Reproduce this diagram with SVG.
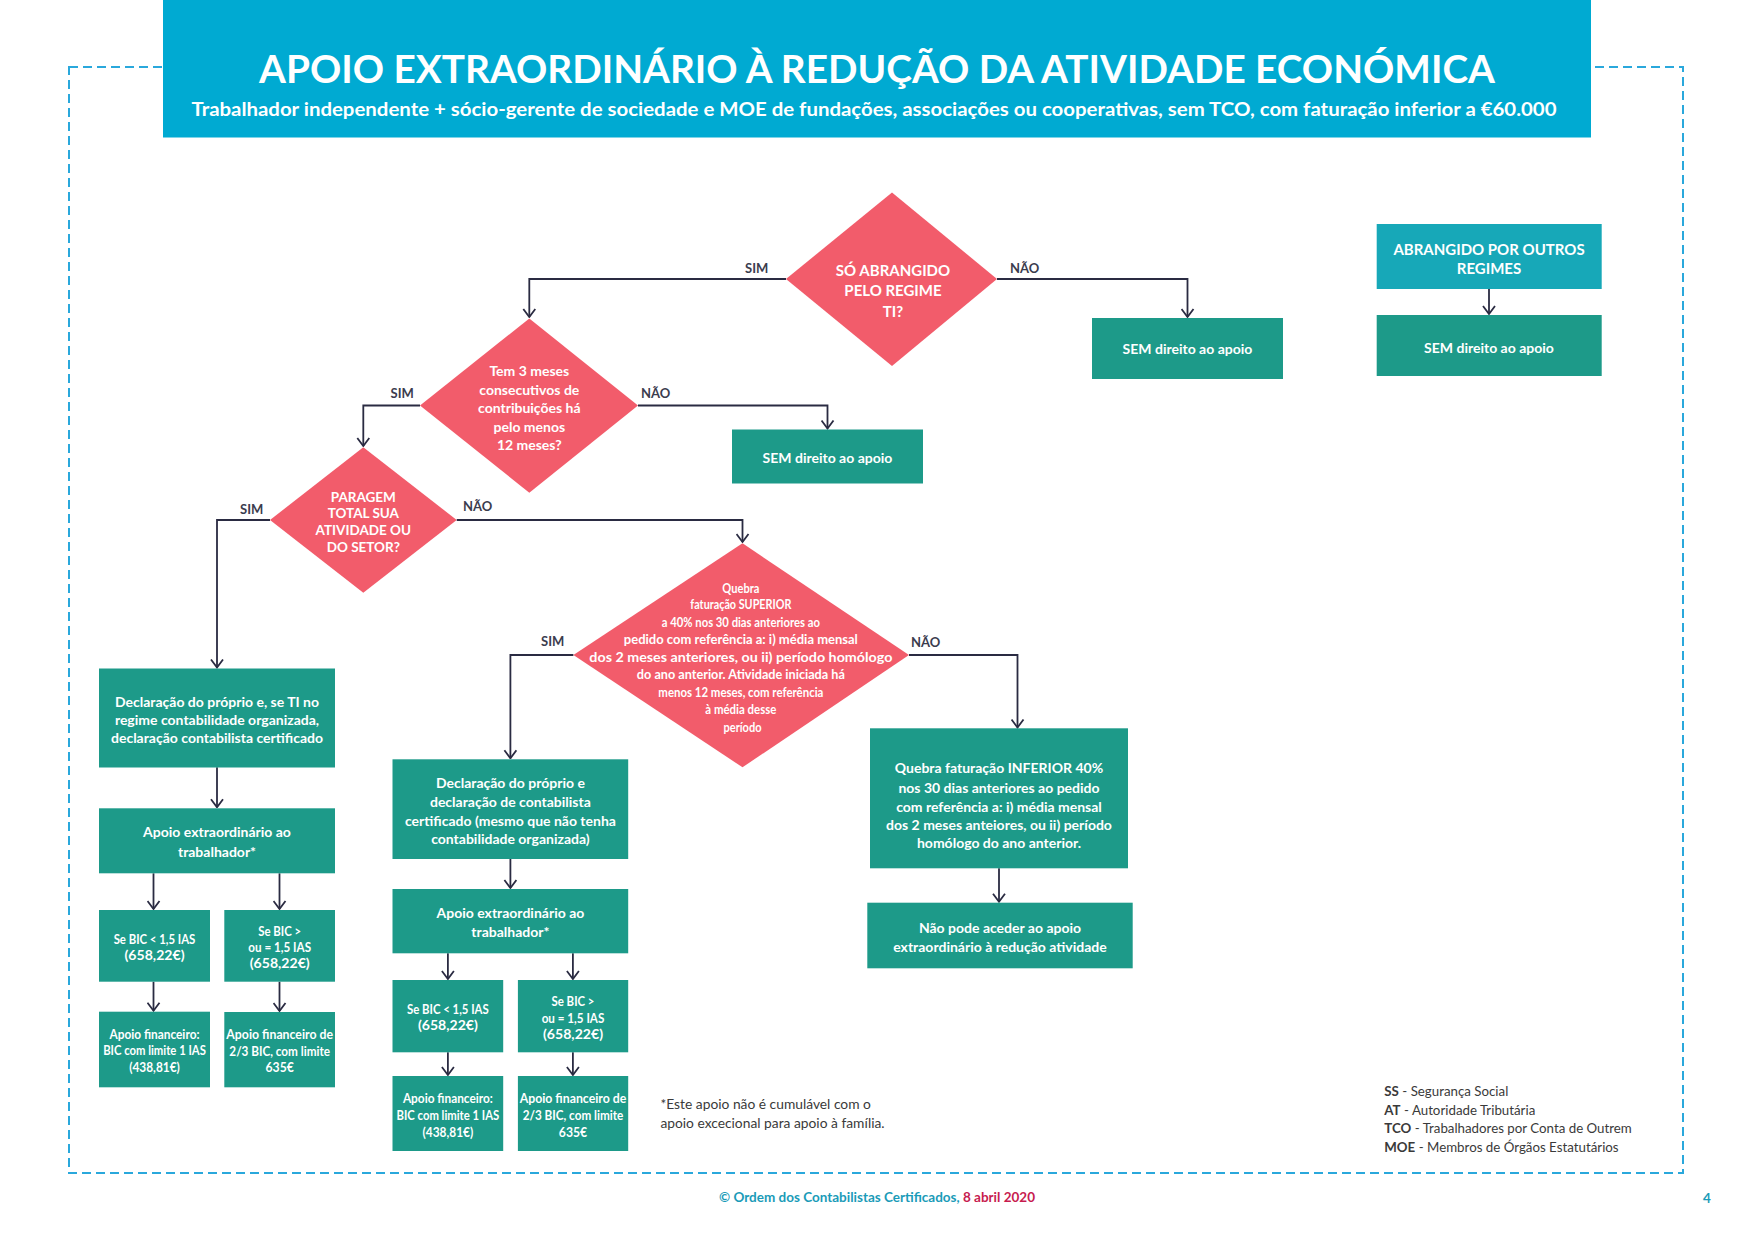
<svg xmlns="http://www.w3.org/2000/svg" width="1754" height="1240" viewBox="0 0 1754 1240">
<defs>
<style>
.bg{fill:#ffffff}
.hdr{fill:#00aad2}
.border{fill:none;stroke:#2aa8dc;stroke-width:2;stroke-dasharray:9 5}
.dia{fill:#f25c6b}
.box{fill:#1d9a89}
.box2{fill:#17a8b8}
.con{fill:none;stroke:#2a2b42;stroke-width:1.8}
.t{font-family:Lato,"Liberation Sans",sans-serif;font-weight:bold;fill:#ffffff;text-anchor:middle;font-size:14px}
.tc{font-size:15px}
.td{font-size:13.5px}
.ts{font-size:13px}
.lbl{font-family:Lato,"Liberation Sans",sans-serif;font-weight:bold;fill:#3b3c4e;font-size:13px}
.note{font-family:Lato,"Liberation Sans",sans-serif;fill:#3a3a3a;font-size:13.3px}
.b{font-weight:bold}
.title{font-family:Lato,"Liberation Sans",sans-serif;font-weight:bold;fill:#ffffff;text-anchor:middle}
.foot{font-family:Lato,"Liberation Sans",sans-serif;font-weight:bold;font-size:13.5px}
</style>
<marker id="arr" viewBox="0 0 10 14" refX="9" refY="7" markerWidth="10" markerHeight="14" markerUnits="userSpaceOnUse" orient="auto">
<path d="M1,1 L9,7 L1,13" fill="none" stroke="#2a2b42" stroke-width="1.8"/>
</marker>
</defs>
<rect class="bg" x="0" y="0" width="1754" height="1240"/>
<rect class="border" x="69" y="67" width="1614" height="1106"/>

<g id="header">
<rect class="hdr" x="163" y="0" width="1428" height="137.5"/>
<text class="title" x="877" y="83" font-size="38" textLength="1236" lengthAdjust="spacingAndGlyphs">APOIO EXTRAORDINÁRIO À REDUÇÃO DA ATIVIDADE ECONÓMICA</text>
<text class="title" x="874" y="116" font-size="19" textLength="1365" lengthAdjust="spacingAndGlyphs">Trabalhador independente + sócio-gerente de sociedade e MOE de fundações, associações ou cooperativas, sem TCO, com faturação inferior a €60.000</text>
</g>

<g id="connectors">
<path class="con" d="M786,279 H529.3 V317" marker-end="url(#arr)"/>
<path class="con" d="M997,279 H1187.5 V317" marker-end="url(#arr)"/>
<path class="con" d="M1489,289 V314" marker-end="url(#arr)"/>
<path class="con" d="M420,405.5 H363.3 V446" marker-end="url(#arr)"/>
<path class="con" d="M638,405.5 H827.5 V428.5" marker-end="url(#arr)"/>
<path class="con" d="M270,520 H217 V667.5" marker-end="url(#arr)"/>
<path class="con" d="M456.7,520 H742.5 V542" marker-end="url(#arr)"/>
<path class="con" d="M573.4,655 H510.4 V758.3" marker-end="url(#arr)"/>
<path class="con" d="M909,655 H1017.5 V727.5" marker-end="url(#arr)"/>
<path class="con" d="M999,868.3 V901.7" marker-end="url(#arr)"/>
<path class="con" d="M217,767.3 V807.3" marker-end="url(#arr)"/>
<path class="con" d="M153.5,873.3 V909" marker-end="url(#arr)"/>
<path class="con" d="M279.5,873.3 V909" marker-end="url(#arr)"/>
<path class="con" d="M153.5,981.7 V1010.7" marker-end="url(#arr)"/>
<path class="con" d="M279.5,981.7 V1011" marker-end="url(#arr)"/>
<path class="con" d="M510.4,859 V888" marker-end="url(#arr)"/>
<path class="con" d="M447.9,953.3 V979" marker-end="url(#arr)"/>
<path class="con" d="M572.9,953.3 V979" marker-end="url(#arr)"/>
<path class="con" d="M447.9,1052.3 V1075" marker-end="url(#arr)"/>
<path class="con" d="M572.9,1052.3 V1075" marker-end="url(#arr)"/>
<text class="lbl" x="745" y="273">SIM</text>
<text class="lbl" x="1010" y="273">NÃO</text>
<text class="lbl" x="390.5" y="398">SIM</text>
<text class="lbl" x="641" y="398">NÃO</text>
<text class="lbl" x="240" y="514">SIM</text>
<text class="lbl" x="463" y="511">NÃO</text>
<text class="lbl" x="541" y="646">SIM</text>
<text class="lbl" x="911" y="646.5">NÃO</text>
</g>

<g id="d1">
<polygon class="dia" points="892,192.5 997,279 892,366 786,279"/>
<text class="t tc"><tspan x="893" y="275.5">SÓ ABRANGIDO</tspan><tspan x="893" y="296">PELO REGIME</tspan><tspan x="893" y="316.5">TI?</tspan></text>
</g>

<g id="sem1">
<rect class="box" x="1092" y="318" width="191" height="61"/>
<text class="t" x="1187.5" y="354">SEM direito ao apoio</text>
</g>

<g id="abrangido">
<rect class="box2" x="1376.7" y="224" width="225" height="65"/>
<text class="t tc"><tspan x="1489" y="255">ABRANGIDO POR OUTROS</tspan><tspan x="1489" y="274">REGIMES</tspan></text>
</g>

<g id="sem3">
<rect class="box" x="1376.7" y="315" width="225" height="61"/>
<text class="t" x="1489" y="352.5">SEM direito ao apoio</text>
</g>

<g id="d2">
<polygon class="dia" points="529.3,318.5 638,405.5 529.3,492.7 420,405.5"/>
<text class="t"><tspan x="529.3" y="376">Tem 3 meses</tspan><tspan x="529.3" y="394.5">consecutivos de</tspan><tspan x="529.3" y="413">contribuições há</tspan><tspan x="529.3" y="431.5">pelo menos</tspan><tspan x="529.3" y="450">12 meses?</tspan></text>
</g>

<g id="sem2">
<rect class="box" x="732" y="429.5" width="191" height="54"/>
<text class="t" x="827.5" y="463">SEM direito ao apoio</text>
</g>

<g id="d3">
<polygon class="dia" points="363.3,447.3 456.7,520 363.3,592.7 270,520"/>
<text class="t" style="font-size:13.5px"><tspan x="363.3" y="501.5">PARAGEM</tspan><tspan x="363.3" y="518">TOTAL SUA</tspan><tspan x="363.3" y="535">ATIVIDADE OU</tspan><tspan x="363.3" y="551.5">DO SETOR?</tspan></text>
</g>

<g id="d4">
<polygon class="dia" points="742.5,543.3 909,655 742.5,767.3 573.4,655"/>
<text class="t td">
<tspan x="742.5" y="593.3" textLength="37" lengthAdjust="spacingAndGlyphs">Quebra</tspan>
<tspan x="742.5" y="609" textLength="101" lengthAdjust="spacingAndGlyphs">faturação SUPERIOR</tspan>
<tspan x="742.5" y="626.7" textLength="158" lengthAdjust="spacingAndGlyphs">a 40% nos 30 dias anteriores ao</tspan>
<tspan x="742.5" y="644.3" textLength="234" lengthAdjust="spacingAndGlyphs">pedido com referência a: i) média mensal</tspan>
<tspan x="742.5" y="661.7" textLength="303" lengthAdjust="spacingAndGlyphs">dos 2 meses anteriores, ou ii) período homólogo</tspan>
<tspan x="742.5" y="679" textLength="208" lengthAdjust="spacingAndGlyphs">do ano anterior. Atividade iniciada há</tspan>
<tspan x="742.5" y="696.7" textLength="165" lengthAdjust="spacingAndGlyphs">menos 12 meses, com referência</tspan>
<tspan x="742.5" y="714" textLength="71" lengthAdjust="spacingAndGlyphs">à média desse</tspan>
<tspan x="742.5" y="731.7" textLength="38" lengthAdjust="spacingAndGlyphs">período</tspan>
</text>
</g>

<g id="l1">
<rect class="box" x="99" y="668.5" width="236" height="99"/>
<text class="t"><tspan x="217" y="706.7">Declaração do próprio e, se TI no</tspan><tspan x="217" y="725">regime contabilidade organizada,</tspan><tspan x="217" y="743.3">declaração contabilista certificado</tspan></text>
</g>

<g id="l2">
<rect class="box" x="99" y="808.3" width="236" height="65"/>
<text class="t"><tspan x="217" y="837.3">Apoio extraordinário ao</tspan><tspan x="217" y="856.7">trabalhador*</tspan></text>
</g>

<g id="l3a">
<rect class="box" x="99" y="910" width="111" height="71.7"/>
<text class="t ts"><tspan x="154.5" y="944" textLength="81.7" lengthAdjust="spacingAndGlyphs">Se BIC &lt; 1,5 IAS</tspan><tspan x="154.5" y="960" textLength="60" lengthAdjust="spacingAndGlyphs">(658,22€)</tspan></text>
</g>

<g id="l3b">
<rect class="box" x="224.3" y="910" width="110.7" height="71.7"/>
<text class="t ts"><tspan x="279.7" y="936" textLength="43" lengthAdjust="spacingAndGlyphs">Se BIC &gt;</tspan><tspan x="279.7" y="952.3" textLength="62.7" lengthAdjust="spacingAndGlyphs">ou = 1,5 IAS</tspan><tspan x="279.7" y="968.3" textLength="60" lengthAdjust="spacingAndGlyphs">(658,22€)</tspan></text>
</g>

<g id="l4a">
<rect class="box" x="99" y="1011.7" width="111" height="75.6"/>
<text class="t ts"><tspan x="154.5" y="1039.3" textLength="90" lengthAdjust="spacingAndGlyphs">Apoio financeiro:</tspan><tspan x="154.5" y="1055.3" textLength="102.7" lengthAdjust="spacingAndGlyphs">BIC com  limite 1 IAS</tspan><tspan x="154.5" y="1071.7" textLength="50.7" lengthAdjust="spacingAndGlyphs">(438,81€)</tspan></text>
</g>

<g id="l4b">
<rect class="box" x="224.3" y="1012" width="110.7" height="75.3"/>
<text class="t ts"><tspan x="279.7" y="1039.3" textLength="106.7" lengthAdjust="spacingAndGlyphs">Apoio financeiro de</tspan><tspan x="279.7" y="1056" textLength="100.7" lengthAdjust="spacingAndGlyphs">2/3 BIC, com limite</tspan><tspan x="279.7" y="1072.3" textLength="28.3" lengthAdjust="spacingAndGlyphs">635€</tspan></text>
</g>

<g id="m1">
<rect class="box" x="392.5" y="759.3" width="235.7" height="99.7"/>
<text class="t"><tspan x="510.4" y="787.7">Declaração do próprio e</tspan><tspan x="510.4" y="806.7">declaração de contabilista</tspan><tspan x="510.4" y="825.7">certificado (mesmo que não tenha</tspan><tspan x="510.4" y="844.3">contabilidade organizada)</tspan></text>
</g>

<g id="m2">
<rect class="box" x="392.5" y="889" width="235.7" height="64.3"/>
<text class="t"><tspan x="510.4" y="918.3">Apoio extraordinário ao</tspan><tspan x="510.4" y="937.3">trabalhador*</tspan></text>
</g>

<g id="ml1">
<rect class="box" x="392.5" y="980" width="110.7" height="72.3"/>
<text class="t ts"><tspan x="447.9" y="1014" textLength="81.7" lengthAdjust="spacingAndGlyphs">Se BIC &lt; 1,5 IAS</tspan><tspan x="447.9" y="1030" textLength="60" lengthAdjust="spacingAndGlyphs">(658,22€)</tspan></text>
</g>

<g id="mr1">
<rect class="box" x="517.9" y="980" width="110.3" height="72.3"/>
<text class="t ts"><tspan x="573" y="1006" textLength="43" lengthAdjust="spacingAndGlyphs">Se BIC &gt;</tspan><tspan x="573" y="1022.7" textLength="62.7" lengthAdjust="spacingAndGlyphs">ou = 1,5 IAS</tspan><tspan x="573" y="1039" textLength="60" lengthAdjust="spacingAndGlyphs">(658,22€)</tspan></text>
</g>

<g id="ml2">
<rect class="box" x="392.5" y="1076" width="110.7" height="75"/>
<text class="t ts"><tspan x="447.9" y="1103.3" textLength="90" lengthAdjust="spacingAndGlyphs">Apoio financeiro:</tspan><tspan x="447.9" y="1120" textLength="102.7" lengthAdjust="spacingAndGlyphs">BIC com  limite 1 IAS</tspan><tspan x="447.9" y="1136.7" textLength="50.7" lengthAdjust="spacingAndGlyphs">(438,81€)</tspan></text>
</g>

<g id="mr2">
<rect class="box" x="517.9" y="1076" width="110.3" height="75"/>
<text class="t ts"><tspan x="573" y="1103.3" textLength="106.7" lengthAdjust="spacingAndGlyphs">Apoio financeiro de</tspan><tspan x="573" y="1120" textLength="100.7" lengthAdjust="spacingAndGlyphs">2/3 BIC, com limite</tspan><tspan x="573" y="1136.7" textLength="28.3" lengthAdjust="spacingAndGlyphs">635€</tspan></text>
</g>

<g id="inferior">
<rect class="box" x="870" y="728.3" width="258" height="140"/>
<text class="t"><tspan x="999" y="773.3">Quebra faturação INFERIOR 40%</tspan><tspan x="999" y="792.7">nos 30 dias anteriores ao pedido</tspan><tspan x="999" y="811.7">com referência a: i) média mensal</tspan><tspan x="999" y="830">dos 2 meses anteiores, ou ii) período</tspan><tspan x="999" y="848.3">homólogo do ano anterior.</tspan></text>
</g>

<g id="naopode">
<rect class="box" x="867.3" y="902.7" width="265.4" height="65.6"/>
<text class="t"><tspan x="1000" y="933.3">Não pode aceder ao apoio</tspan><tspan x="1000" y="952.3">extraordinário à redução atividade</tspan></text>
</g>

<g id="footnote">
<text class="note" style="font-size:13.8px"><tspan x="660.4" y="1109.3">*Este apoio não é cumulável com o</tspan><tspan x="660.4" y="1128.3">apoio excecional para apoio à família.</tspan></text>
</g>

<g id="legend">
<text class="note" x="1384.3" y="1096"><tspan class="b">SS</tspan> - Segurança Social</text>
<text class="note" x="1384.3" y="1115"><tspan class="b">AT</tspan> - Autoridade Tributária</text>
<text class="note" x="1384.3" y="1133.3"><tspan class="b">TCO</tspan> - Trabalhadores por Conta de Outrem</text>
<text class="note" x="1384.3" y="1152.3"><tspan class="b">MOE</tspan> - Membros de Órgãos Estatutários</text>
</g>

<g id="footer">
<text class="foot" x="877" y="1202" text-anchor="middle"><tspan fill="#1a9bb8">© Ordem dos Contabilistas Certificados, </tspan><tspan fill="#c71c4f">8 abril 2020</tspan></text>
<text class="foot" x="1707" y="1203" text-anchor="middle" fill="#1a9bb8">4</text>
</g>
</svg>
